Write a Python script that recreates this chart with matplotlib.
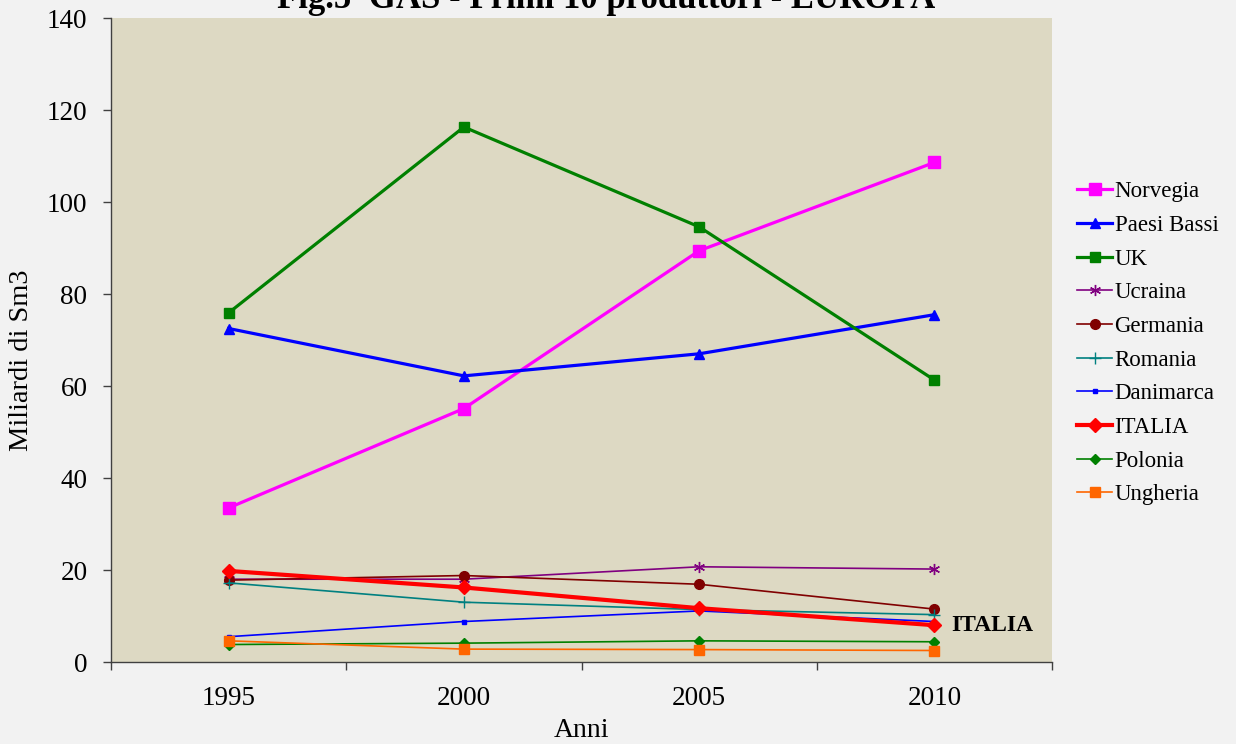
import matplotlib
matplotlib.use("Agg")
import matplotlib.pyplot as plt
from matplotlib.ticker import FixedLocator

years = ["1995", "2000", "2005", "2010"]
norvegia = [33.5, 55.1, 89.4, 108.6]
paesi_bassi = [72.5, 62.2, 67.0, 75.5]
uk = [75.9, 116.3, 94.6, 61.3]
ucraina = [18.0, 18.0, 20.7, 20.2]
germania = [17.8, 18.8, 16.9, 11.5]
romania = [17.2, 13.0, 11.4, 10.3]
danimarca = [5.5, 8.8, 11.1, 8.8]
italia = [19.8, 16.2, 11.7, 8.0]
polonia = [3.8, 4.1, 4.6, 4.4]
ungheria = [4.6, 2.8, 2.7, 2.5]

plt.rcParams['font.family'] = ['Liberation Serif', 'DejaVu Serif']

fig = plt.figure(figsize=(12.36, 7.44), dpi=100, facecolor='#f2f2f2')
ax = fig.add_axes([111/1236, 1-662/744, (1052-111)/1236, (662-18)/744])
ax.set_facecolor('#ddd9c3')

x = list(range(len(years)))
series = [
    ("Norvegia", norvegia, '#ff00ff', 2.3, 's', 9),
    ("Paesi Bassi", paesi_bassi, '#0000ff', 2.3, '^', 6.5),
    ("UK", uk, '#008000', 2.3, 's', 6.5),
    ("Ucraina", ucraina, '#800080', 1.2, (6, 2, 0), 8),
    ("Germania", germania, '#800000', 1.2, 'o', 7),
    ("Romania", romania, '#008080', 1.2, '+', 8),
    ("Danimarca", danimarca, '#0000ff', 1.2, 's', 3),
    ("ITALIA", italia, '#ff0000', 3.0, 'D', 7.5),
    ("Polonia", polonia, '#008000', 1.2, 'D', 5.5),
    ("Ungheria", ungheria, '#ff6600', 1.2, 's', 7),
]
for name, vals, col, lw, mk, ms in series:
    ax.plot(x, vals, color=col, lw=lw, marker=mk, markersize=ms,
            markeredgecolor=col, markerfacecolor=col, label=name)

ax.set_xlim(-0.5, 3.5)
ax.set_ylim(0, 140)
ax.set_yticks(range(0, 141, 20))
ax.set_xticks(x)
ax.set_xticklabels(years)
ax.xaxis.set_minor_locator(FixedLocator([-0.5, 0.5, 1.5, 2.5, 3.5]))
ax.tick_params(axis='x', which='major', length=0, labelsize=19.5, pad=17)
ax.tick_params(axis='x', which='minor', length=6, width=1, color='#404040', direction='out')
ax.tick_params(axis='y', length=6, width=1, color='#404040', labelsize=19.5, pad=11)
for s in ['top', 'right']:
    ax.spines[s].set_visible(False)
for s in ['left', 'bottom']:
    ax.spines[s].set_color('#404040')
    ax.spines[s].set_linewidth(1)

ax.set_xlabel("Anni", fontsize=20, labelpad=5)
ax.set_ylabel("Miliardi di Sm3", fontsize=20.5, labelpad=10)
ax.yaxis.set_label_coords(-(111-34)/941, 1 - (360-18)/644)

ax.text(3.07, italia[-1], "ITALIA", fontsize=17, fontweight='bold', va='center', ha='left')

fig.text(0.49, 1 - 8/744, "Fig.5  GAS - Primi 10 produttori - EUROPA", ha='center', va='baseline',
         fontsize=25, fontweight='bold')

leg = fig.legend(loc='upper left', bbox_to_anchor=(1066/1236, 1-170/744), frameon=False,
                 fontsize=16.5, handlelength=1.5, handletextpad=0.12, labelspacing=0.55,
                 borderpad=0)

fig.savefig("out.png", dpi=100, facecolor=fig.get_facecolor())
